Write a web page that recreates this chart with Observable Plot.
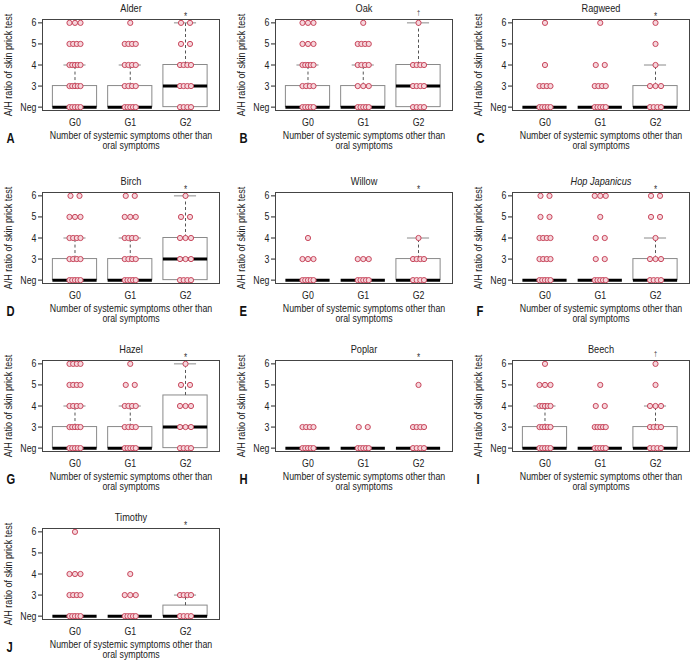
<!DOCTYPE html>
<html>
<head>
<meta charset="utf-8">
<script src="https://cdn.jsdelivr.net/npm/d3@7"></script>
<script src="https://cdn.jsdelivr.net/npm/@observablehq/plot@0.6"></script>
<style>
  body { margin: 0; background: #fff; }
  #chart { position: relative; width: 693px; height: 664px; overflow: hidden; background: #fff; }
  .panel { position: absolute; }
  .panel svg { overflow: visible; }
</style>
</head>
<body>
<div id="chart"></div>
<script>
// ---- data ----
const groups = ["G0", "G1", "G2"];
const yTickValues = [2, 3, 4, 5, 6];
const yTickLabels = ["Neg", "3", "4", "5", "6"];
const titles = ["Alder", "Oak", "Ragweed", "Birch", "Willow", "Hop Japanicus", "Hazel", "Poplar", "Beech", "Timothy"];
const letters = ["A", "B", "C", "D", "E", "F", "G", "H", "I", "J"];
const signif = ["*", "\u2020", "*", "*", "*", "*", "*", "*", "\u2020", "*"];
const yLabel = "A/H ratio of skin prick test";
const xLabel = "Number of systemic symptoms other than\noral symptoms";

// box stats per panel, per group: [q1, median, q3, upper whisker]
const boxStats = [
  [[2, 2, 3, 4], [2, 2, 3, 4], [2, 3, 4, 6]],       // Alder
  [[2, 2, 3, 4], [2, 2, 3, 4], [2, 3, 4, 6]],       // Oak
  [[2, 2, 2, 2], [2, 2, 2, 2], [2, 2, 3, 4]],       // Ragweed
  [[2, 2, 3, 4], [2, 2, 3, 4], [2, 3, 4, 6]],       // Birch
  [[2, 2, 2, 2], [2, 2, 2, 2], [2, 2, 3, 4]],       // Willow
  [[2, 2, 2, 2], [2, 2, 2, 2], [2, 2, 3, 4]],       // Hop Japanicus
  [[2, 2, 3, 4], [2, 2, 3, 4], [2, 3, 4.5, 6]],     // Hazel
  [[2, 2, 2, 2], [2, 2, 2, 2], [2, 2, 2, 2]],       // Poplar
  [[2, 2, 3, 4], [2, 2, 2, 2], [2, 2, 3, 4]],       // Beech
  [[2, 2, 2, 2], [2, 2, 2, 2], [2, 2, 2.5, 3]]      // Timothy
];

// visible point counts per panel, per group, at levels [Neg, 3, 4, 5, 6]
const pointCounts = [
  [[5, 5, 5, 4, 3], [5, 4, 4, 4, 1], [4, 4, 4, 2, 2]],  // Alder
  [[5, 4, 5, 3, 3], [5, 3, 4, 4, 1], [4, 4, 4, 0, 1]],  // Oak
  [[5, 4, 1, 0, 1], [5, 4, 2, 0, 1], [4, 3, 1, 1, 1]],  // Ragweed
  [[5, 4, 4, 3, 2], [5, 4, 4, 3, 2], [4, 3, 3, 2, 1]],  // Birch
  [[5, 3, 1, 0, 0], [5, 3, 0, 0, 0], [4, 4, 1, 0, 0]],  // Willow
  [[5, 4, 4, 2, 2], [5, 2, 2, 1, 3], [4, 3, 1, 2, 2]],  // Hop Japanicus
  [[5, 5, 4, 4, 4], [5, 4, 4, 2, 1], [4, 3, 3, 2, 1]],  // Hazel
  [[5, 4, 0, 0, 0], [5, 2, 0, 0, 0], [4, 4, 0, 1, 0]],  // Poplar
  [[5, 5, 5, 3, 1], [5, 5, 2, 1, 0], [4, 4, 3, 1, 1]],  // Beech
  [[5, 4, 3, 0, 1], [5, 3, 1, 0, 0], [4, 4, 0, 0, 0]]   // Timothy
];

// ---- layout ----
const colLeft = [0, 233, 470];
const rowTop = [0, 173, 341, 509];
const FONT = "'Liberation Sans', Arial, sans-serif";
const PX_PER_UNIT = 55.25;
const CONDENSE = 0.8;

function panel(i) {
  const pts = [];
  pointCounts[i].forEach((lv, g) => {
    lv.forEach((n, k) => {
      const step = n > 1 ? Math.min(9, 11 / (n - 1)) : 0;
      for (let j = 0; j < n; j++) {
        const offPx = (j - (n - 1) / 2) * step;
        pts.push({x: g + 1 + offPx / PX_PER_UNIT, y: yTickValues[k]});
      }
    });
  });
  const boxes = boxStats[i].map((s, g) => ({g: g + 1, q1: s[0], med: s[1], q3: s[2], hi: s[3]}));
  const whisk = boxes.filter(b => b.hi > b.q3);
  const star = signif[i] === "*";

  return Plot.plot({
    width: 223,
    height: 160,
    marginLeft: 42,
    marginRight: 4,
    marginTop: 19,
    marginBottom: 50,
    style: {fontFamily: FONT, fontSize: "11px", color: "#222", background: "white", overflow: "visible"},
    x: {domain: [0.412, 3.615], ticks: [1, 2, 3], tickFormat: d => groups[d - 1], tickSize: 0, tickPadding: 8, label: null},
    y: {domain: [1.84, 6.16], ticks: yTickValues, tickFormat: d => yTickLabels[yTickValues.indexOf(d)], tickSize: 4, tickPadding: 2, label: null},
    marks: [
      Plot.rect(boxes, {x1: d => d.g - 0.4, x2: d => d.g + 0.4, y1: "q1", y2: "q3", fill: "white", stroke: "#8a8a8a", strokeWidth: 1}),
      Plot.ruleX(whisk, {x: "g", y1: "q3", y2: "hi", stroke: "#555", strokeDasharray: "3,2.5"}),
      Plot.ruleY(whisk, {y: "hi", x1: d => d.g - 0.2, x2: d => d.g + 0.2, stroke: "#8a8a8a"}),
      Plot.ruleY(boxes, {y: "med", x1: d => d.g - 0.4, x2: d => d.g + 0.4, stroke: "black", strokeWidth: 3}),
      Plot.dot(pts, {x: "x", y: "y", r: 2.6, stroke: "#c8475c", fill: "#f6d6dc", strokeWidth: 1}),
      Plot.frame({stroke: "#444"}),
      Plot.text([titles[i]], {text: d => d, frameAnchor: "top", dy: -11, lineAnchor: "middle", fontSize: 11.5, fontStyle: i === 5 ? "italic" : "normal"}),
      Plot.text([signif[i]], {text: d => d, x: 3, frameAnchor: "top", lineAnchor: "middle", dy: star ? -3 : -7, fontSize: star ? 10 : 7, fill: "#333"}),
      Plot.text([yLabel], {text: d => d, frameAnchor: "left", dx: -34, rotate: -90, textAnchor: "middle", lineAnchor: "middle", fontSize: 11.3}),
      Plot.text([xLabel], {text: d => d, frameAnchor: "bottom", dy: 30, lineAnchor: "middle", lineHeight: 0.9, fontSize: 11}),
      Plot.text([letters[i]], {text: d => d, frameAnchor: "bottom-left", dx: -36, dy: 28, textAnchor: "start", lineAnchor: "middle", fontSize: 14, fontWeight: "bold", fill: "#111"})
    ]
  });
}

function condense(svg, f) {
  svg.querySelectorAll("text").forEach(t => {
    const spans = t.querySelectorAll("tspan");
    const targets = spans.length ? Array.from(spans) : [t];
    targets.forEach(el => {
      const L = el.getComputedTextLength();
      if (L > 0) {
        el.setAttribute("textLength", (L * f).toFixed(2));
        el.setAttribute("lengthAdjust", "spacingAndGlyphs");
      }
    });
  });
}

const chart = document.getElementById("chart");
titles.forEach((t, i) => {
  const row = Math.floor(i / 3), col = i % 3;
  const div = document.createElement("div");
  div.className = "panel";
  div.style.left = colLeft[col] + "px";
  div.style.top = rowTop[row] + "px";
  const svg = panel(i);
  div.appendChild(svg);
  chart.appendChild(div);
  condense(svg, CONDENSE);
});
</script>
</body>
</html>
